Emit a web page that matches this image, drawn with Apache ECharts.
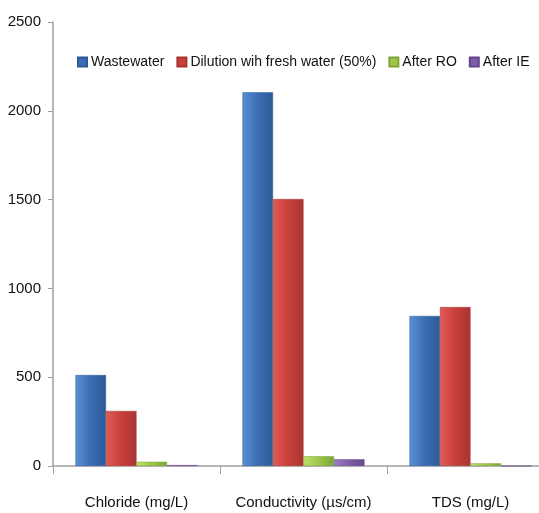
<!DOCTYPE html>
<html><head><meta charset="utf-8">
<script src="https://cdn.jsdelivr.net/npm/echarts@6/dist/echarts.min.js"></script>
<style>html,body{margin:0;padding:0;background:#fff}#c{width:539px;height:513px}</style>
</head><body><div id="c"></div>
<script>
var categories = ['Chloride (mg/L)', 'Conductivity (µs/cm)', 'TDS (mg/L)'];
var seriesNames = ['Wastewater', 'Dilution wih fresh water (50%)', 'After RO', 'After IE'];
var wastewater = [512, 2104, 845];
var dilution = [310, 1503, 895];
var afterRO = [24, 55, 15];
var afterIE = [5, 38, 0];
var yTicks = [0, 500, 1000, 1500, 2000, 2500];

var colors = [['#5a90d6', '#3a6db3', '#2c5a96'], ['#e05a56', '#c8403c', '#a83431'], ['#bde36a', '#9cc74a', '#7ea338'], ['#9c7fc4', '#7e5ea8', '#65488c']];
function grad(c) {
  return new echarts.graphic.LinearGradient(0, 0, 1, 0, [
    {offset: 0, color: c[0]}, {offset: 0.5, color: c[1]}, {offset: 1, color: c[2]}
  ]);
}
var data = [wastewater, dilution, afterRO, afterIE];
var font = '"Liberation Sans", sans-serif';
var chart = echarts.init(document.getElementById('c'), null, {renderer: 'canvas'});
chart.setOption({
  animation: false,
  textStyle: {fontFamily: font},
  legend: {
    top: 50, left: 72, width: 480, itemWidth: 9, itemHeight: 9, itemGap: 12,
    icon: 'rect',
    textStyle: {fontFamily: font, fontSize: 14, color: '#111', padding: [0, 0, 0, -1]},
    data: seriesNames.map(function (n, i) { return {name: n, itemStyle: {color: colors[i][1]}}; })
  },
  grid: {left: 53, width: 501, top: 22, bottom: 47, containLabel: false, outerBoundsMode: 'none'},
  xAxis: {
    type: 'category', data: categories,
    axisLine: {lineStyle: {color: '#a0a0a0', width: 1.5}},
    axisTick: {show: true, length: 8, lineStyle: {color: '#a0a0a0'}},
    axisLabel: {interval: 0, margin: 29, fontSize: 15, color: '#111', fontFamily: font}
  },
  yAxis: {
    type: 'value', min: yTicks[0], max: yTicks[yTicks.length - 1], interval: 500,
    axisLine: {show: true, lineStyle: {color: '#a0a0a0', width: 1.5}},
    axisTick: {show: true, length: 5, lineStyle: {color: '#a0a0a0'}},
    splitLine: {show: false},
    axisLabel: {margin: 12, fontSize: 15, color: '#111', fontFamily: font, formatter: function (v) { return String(v); }}
  },
  series: data.map(function (d, i) {
    return {
      name: seriesNames[i], type: 'bar', data: d,
      barWidth: 30.5, barGap: '0%',
      itemStyle: {color: grad(colors[i]), borderColor: colors[i][2], borderWidth: 0.5}
    };
  })
});
</script></body></html>
